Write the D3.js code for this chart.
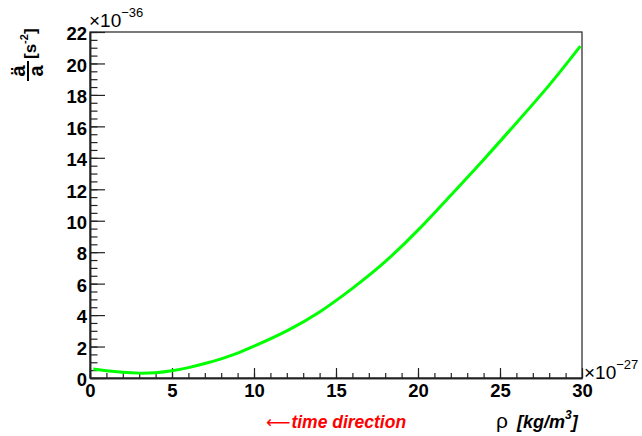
<!DOCTYPE html>
<html>
<head>
<meta charset="utf-8">
<script src="https://cdn.jsdelivr.net/npm/d3@7"></script>
<style>
  body { margin: 0; background: #fff; }
  text { font-family: "Liberation Sans", Arial, sans-serif; }
</style>
</head>
<body>
<div class="content"></div>
<script>
// curve: rho in 1e-27 kg/m^3, a''/a in 1e-36 s^-2
const rho = [0.2, 1, 2, 3, 4, 5, 6, 7, 8, 9, 10, 12, 14, 16, 18, 20, 22, 24, 26, 28, 29.9]
const acc = [0.57, 0.46, 0.36, 0.31, 0.34, 0.46, 0.66, 0.92, 1.22, 1.58, 2.02, 3.0, 4.2, 5.7, 7.4, 9.4, 11.62, 13.88, 16.22, 18.62, 21.1]

const xTicks = [0, 5, 10, 15, 20, 25, 30]
const yTicks = [0, 2, 4, 6, 8, 10, 12, 14, 16, 18, 20, 22]

const width = 642
const height = 436
const padL = 90, padR = 582, padT = 32, padB = 378

const x = d3.scaleLinear().domain([0, 30]).range([padL, padR])
const y = d3.scaleLinear().domain([0, 22]).range([padB, padT])

const svg = d3.select('div.content')
    .append('svg')
    .attr('width', width)
    .attr('height', height)

// frame
svg.append('rect')
    .attr('x', padL)
    .attr('y', padT)
    .attr('width', padR - padL)
    .attr('height', padB - padT)
    .attr('fill', 'none')
    .attr('stroke', '#222')
    .attr('stroke-width', 1.2)

// x axis, minor then major
svg.append('g')
    .attr('transform', `translate(0,${padB})`)
    .call(d3.axisBottom(x).tickValues(d3.range(0, 31, 1)).tickSizeInner(-5).tickSizeOuter(0).tickFormat(''))
svg.append('g')
    .attr('class', 'xmajor')
    .attr('transform', `translate(0,${padB})`)
    .call(d3.axisBottom(x).tickValues(xTicks).tickSizeInner(-10).tickSizeOuter(0).tickPadding(6))

// y axis, minor then major
svg.append('g')
    .attr('transform', `translate(${padL},0)`)
    .call(d3.axisLeft(y).tickValues(d3.range(0, 22.01, 0.5)).tickSizeInner(-7.5).tickSizeOuter(0).tickFormat(''))
svg.append('g')
    .attr('class', 'ymajor')
    .attr('transform', `translate(${padL},0)`)
    .call(d3.axisLeft(y).tickValues(yTicks).tickSizeInner(-15).tickSizeOuter(0).tickPadding(3))

svg.selectAll('.domain').attr('stroke', '#222').attr('stroke-width', 1.5)
svg.selectAll('.tick line').attr('stroke', '#222').attr('stroke-width', 1.2)
svg.selectAll('.xmajor text, .ymajor text')
    .attr('font-family', '"Liberation Sans", Arial, sans-serif')
    .attr('font-size', 18.5)
    .attr('font-weight', 'bold')
    .attr('fill', '#000')
svg.selectAll('.ymajor text').attr('dy', '0.42em')

// curve
const line = d3.line()
    .x((d, i) => x(rho[i]))
    .y(d => y(d))
    .curve(d3.curveNatural)
svg.append('path')
    .datum(acc)
    .attr('d', line)
    .attr('fill', 'none')
    .attr('stroke', '#00ff00')
    .attr('stroke-width', 3)

// exponents
const expY = svg.append('text')
    .attr('x', padL - 1)
    .attr('y', 27)
    .attr('font-size', 19)
expY.append('tspan').text('\u00d710')
expY.append('tspan').attr('dy', -10).attr('font-size', 13).text('\u221236')

const expX = svg.append('text')
    .attr('x', padR + 2)
    .attr('y', padB + 1)
    .attr('font-size', 19)
expX.append('tspan').text('\u00d710')
expX.append('tspan').attr('dy', -10).attr('font-size', 13).text('\u221227')

// y title: fraction a-ddot over a, then [s^-2]
const yt = svg.append('g').attr('transform', 'translate(28,81) rotate(-90)')
yt.append('text')
    .attr('x', 10).attr('y', -3)
    .attr('text-anchor', 'middle')
    .attr('font-size', 20).attr('font-weight', 'bold')
    .text('\u00e4')
yt.append('line')
    .attr('x1', 0).attr('x2', 20)
    .attr('y1', 0).attr('y2', 0)
    .attr('stroke', '#000').attr('stroke-width', 2)
yt.append('text')
    .attr('x', 10).attr('y', 15)
    .attr('text-anchor', 'middle')
    .attr('font-size', 20).attr('font-weight', 'bold')
    .text('a')
const ys = yt.append('text')
    .attr('x', 22).attr('y', 8)
    .attr('font-size', 17).attr('font-weight', 'bold')
ys.append('tspan').text('[s')
ys.append('tspan').attr('dy', -8).attr('font-size', 11).text('-2')
ys.append('tspan').attr('dy', 8).attr('font-size', 17).text(']')

// x title
const xt = svg.append('text')
    .attr('x', 496)
    .attr('y', 428)
    .attr('font-size', 21)
xt.append('tspan').text('\u03c1')
xt.append('tspan').attr('dx', 9).attr('font-size', 18).attr('font-weight', 'bold').attr('font-style', 'italic').text('[kg/m')
xt.append('tspan').attr('dy', -9).attr('font-size', 12).attr('font-weight', 'bold').attr('font-style', 'italic').text('3')
xt.append('tspan').attr('dy', 9).attr('font-size', 18).attr('font-weight', 'bold').attr('font-style', 'italic').text(']')

// time direction note
const td = svg.append('text')
    .attr('x', 266)
    .attr('y', 428)
    .attr('fill', '#ff0000')
td.append('tspan').attr('font-family', '"DejaVu Sans"').attr('font-size', 17).text('\u27f5')
td.append('tspan').attr('dx', 1).attr('font-size', 17.5).attr('font-weight', 'bold').attr('font-style', 'italic').text('time direction')
</script>
</body>
</html>
